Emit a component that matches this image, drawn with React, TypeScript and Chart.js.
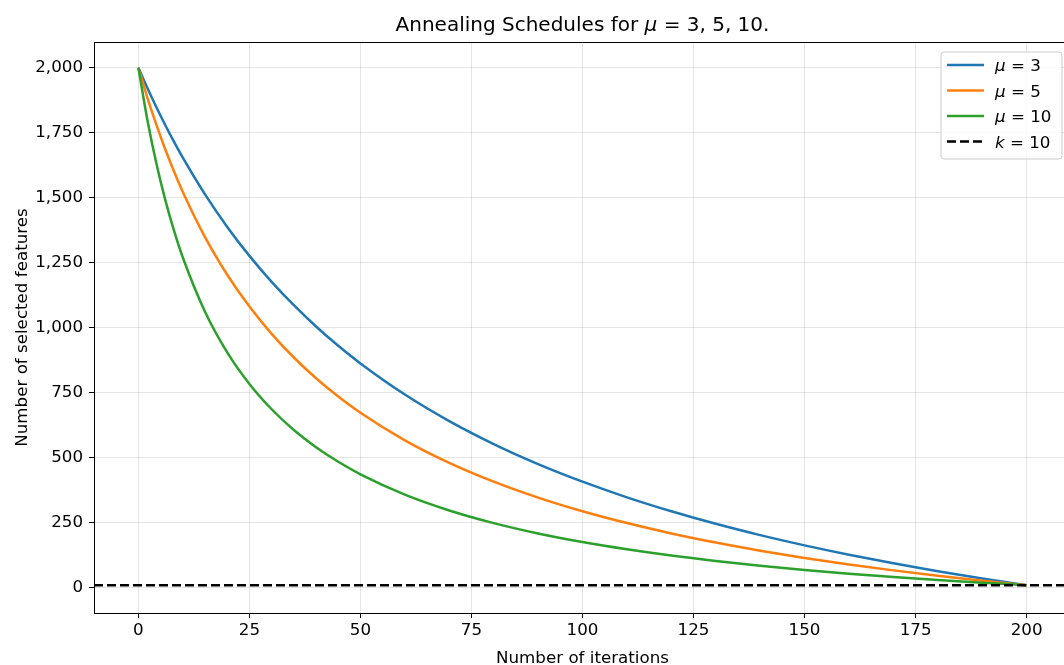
import React, { useEffect, useRef } from "react";
import { Chart, registerables } from "chart.js";

Chart.register(...registerables);

// ---- data ----
const iterations = [0, 2, 4, 6, 8, 10, 15, 20, 25, 30, 35, 40, 45, 50, 60, 70, 80, 90, 100, 110, 120, 130, 140, 150, 160, 170, 180, 190, 200];
const mu3 = [2000, 1922.7, 1849.8, 1780.9, 1715.7, 1653.9, 1512.7, 1387.7, 1276.4, 1176.6, 1086.6, 1005, 930.7, 862.9, 743.2, 641, 552.7, 475.7, 408, 347.9, 294.3, 246.1, 202.6, 163.1, 127.1, 94.1, 63.8, 35.8, 10];
const mu5 = [2000, 1886.3, 1782.9, 1688.5, 1602, 1522.4, 1348.7, 1204, 1081.5, 976.6, 885.6, 806, 735.8, 673.3, 567.2, 480.4, 408, 346.8, 294.3, 248.8, 209, 173.9, 142.7, 114.7, 89.6, 66.9, 46.2, 27.3, 10];
const mu10 = [2000, 1801, 1635.2, 1494.8, 1374.6, 1270.3, 1061.9, 905.5, 783.9, 686.6, 607, 540.7, 484.5, 436.4, 358.3, 297.4, 248.8, 209, 175.8, 147.8, 123.7, 102.9, 84.6, 68.5, 54.2, 41.4, 29.9, 19.5, 10];
const kValue = 10;
const xTicks = [0, 25, 50, 75, 100, 125, 150, 175, 200];
const yTicks = [0, 250, 500, 750, 1000, 1250, 1500, 1750, 2000];
const xRange = [-10, 210];
const yRange = [-97, 2099];
const seriesNames = ["3", "5", "10"];
const seriesColors = ["#1f77b4", "#ff7f0e", "#2ca02c"];

const FONT = "'DejaVu Sans', sans-serif";
const FS = 16.7;

const W = 1080;
const H = 680;
const PLOT_TOP = 42;
const PLOT_BOTTOM = 613;

function drawMixed(ctx: CanvasRenderingContext2D, parts: [string, boolean][], x: number, y: number, size: number, align: "left" | "center") {
  const widths = parts.map(([t, it]) => {
    ctx.font = `${it ? "italic " : ""}${size}px ${FONT}`;
    return ctx.measureText(t).width;
  });
  const total = widths.reduce((a, b) => a + b, 0);
  let cx = align === "center" ? x - total / 2 : x;
  parts.forEach(([t, it], i) => {
    ctx.font = `${it ? "italic " : ""}${size}px ${FONT}`;
    ctx.fillText(t, cx, y);
    cx += widths[i];
  });
}

const decorPlugin = {
  id: "decor",
  afterDraw(chart: any) {
    const ctx: CanvasRenderingContext2D = chart.ctx;
    const a = chart.chartArea;
    ctx.save();
    // top & right spines
    ctx.strokeStyle = "#000";
    ctx.lineWidth = 1;
    ctx.beginPath();
    ctx.moveTo(a.left, a.top + 0.5);
    ctx.lineTo(a.right, a.top + 0.5);
    ctx.moveTo(a.right - 0.5, a.top);
    ctx.lineTo(a.right - 0.5, a.bottom);
    ctx.stroke();

    ctx.fillStyle = "#000";
    ctx.textBaseline = "alphabetic";
    ctx.textAlign = "left";
    // title
    drawMixed(ctx, [["Annealing Schedules for ", false], ["μ", true], [" = 3, 5, 10.", false]], (a.left + a.right) / 2, 31, 20, "center");
    // x label
    drawMixed(ctx, [["Number of iterations", false]], (a.left + a.right) / 2, 663, FS, "center");
    // y label
    ctx.save();
    ctx.translate(27, (a.top + a.bottom) / 2);
    ctx.rotate(-Math.PI / 2);
    drawMixed(ctx, [["Number of selected features", false]], 0, 0, FS, "center");
    ctx.restore();

    // legend
    const bx = 941, by = 52, bw = 121, bh = 107;
    ctx.beginPath();
    const r = 3;
    ctx.moveTo(bx + r, by);
    ctx.lineTo(bx + bw - r, by);
    ctx.arcTo(bx + bw, by, bx + bw, by + r, r);
    ctx.lineTo(bx + bw, by + bh - r);
    ctx.arcTo(bx + bw, by + bh, bx + bw - r, by + bh, r);
    ctx.lineTo(bx + r, by + bh);
    ctx.arcTo(bx, by + bh, bx, by + bh - r, r);
    ctx.lineTo(bx, by + r);
    ctx.arcTo(bx, by, bx + r, by, r);
    ctx.closePath();
    ctx.fillStyle = "rgba(255,255,255,0.8)";
    ctx.fill();
    ctx.strokeStyle = "#cccccc";
    ctx.lineWidth = 1;
    ctx.stroke();

    const rows: { color: string; dash: number[]; sym: string; val: string }[] = seriesNames.map((n, i) => ({ color: seriesColors[i], dash: [], sym: "μ", val: n }));
    rows.push({ color: "#000", dash: [9, 4], sym: "k", val: String(kValue) });
    rows.forEach((row, i) => {
      const y = 65 + i * 25.5;
      ctx.strokeStyle = row.color;
      ctx.lineWidth = 2.5;
      ctx.setLineDash(row.dash);
      ctx.beginPath();
      ctx.moveTo(947, y);
      ctx.lineTo(984, y);
      ctx.stroke();
      ctx.setLineDash([]);
      ctx.fillStyle = "#000";
      drawMixed(ctx, [[row.sym, true], [" = " + row.val, false]], 995, y + 6, FS, "left");
    });
    ctx.restore();
  },
};

export default function App() {
  const ref = useRef<HTMLCanvasElement>(null);
  useEffect(() => {
    if (!ref.current) return;
    const mk = (arr: number[]) => iterations.map((x, i) => ({ x, y: arr[i] }));
    const series = [mu3, mu5, mu10];
    const datasets: any[] = series.map((arr, i) => ({
      label: "μ = " + seriesNames[i],
      data: mk(arr),
      borderColor: seriesColors[i],
      borderWidth: 2.5,
      pointRadius: 0,
      cubicInterpolationMode: "monotone",
      fill: false,
      order: 3 - i,
    }));
    datasets.push({
      label: "k = " + kValue,
      data: [{ x: xRange[0], y: kValue }, { x: xRange[1], y: kValue }],
      borderColor: "#000",
      borderWidth: 2.5,
      borderDash: [9, 4],
      pointRadius: 0,
      fill: false,
      order: 0,
    });
    const chart = new Chart(ref.current, {
      type: "line",
      data: { datasets },
      plugins: [decorPlugin],
      options: {
        animation: false,
        responsive: false,
        devicePixelRatio: 1,
        layout: { padding: { left: 0, top: PLOT_TOP, right: 9, bottom: 0 } },
        plugins: { legend: { display: false }, title: { display: false }, tooltip: { enabled: false } },
        scales: {
          x: {
            type: "linear",
            min: xRange[0],
            max: xRange[1],
            afterFit: (s: any) => { s.height = H - PLOT_BOTTOM; },
            afterBuildTicks: (s: any) => { s.ticks = xTicks.map((v) => ({ value: v })); },
            ticks: { color: "#000", font: { family: FONT, size: FS }, padding: 3, maxRotation: 0, autoSkip: false },
            grid: { color: "rgba(0,0,0,0.1)", lineWidth: 1, tickColor: "#000", tickLength: 5, drawTicks: true },
            border: { display: true, color: "#000", width: 1 },
          },
          y: {
            type: "linear",
            min: yRange[0],
            max: yRange[1],
            afterFit: (s: any) => { s.width = 94; },
            afterBuildTicks: (s: any) => { s.ticks = yTicks.map((v) => ({ value: v })); },
            ticks: {
              color: "#000",
              font: { family: FONT, size: FS },
              padding: 6,
              autoSkip: false,
              callback: (v: any) => Number(v).toLocaleString("en-US"),
            },
            grid: { color: "rgba(0,0,0,0.1)", lineWidth: 1, tickColor: "#000", tickLength: 5, drawTicks: true },
            border: { display: true, color: "#000", width: 1 },
          },
        },
      } as any,
    });
    return () => chart.destroy();
  }, []);
  return (
    <div style={{ position: "fixed", left: 0, top: 0, width: 1064, height: 665, overflow: "hidden", background: "#fff" }}>
      <canvas ref={ref} width={W} height={H} style={{ display: "block", width: W, height: H }} />
    </div>
  );
}
